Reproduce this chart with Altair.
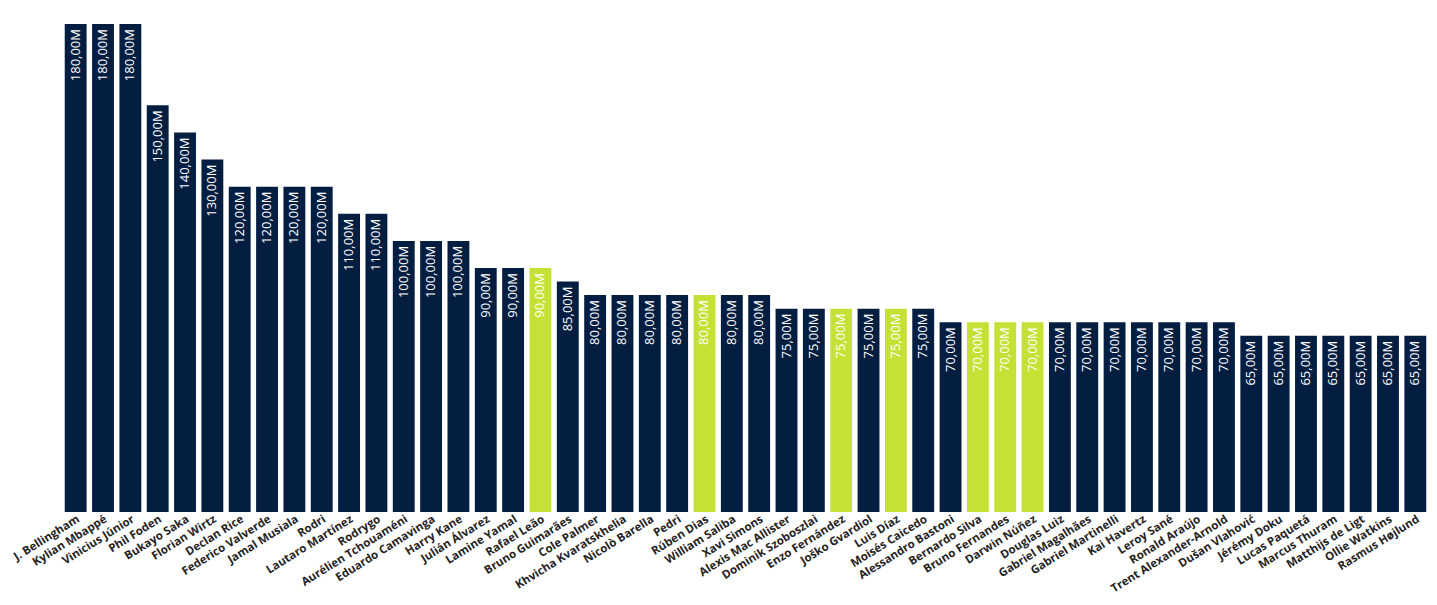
import altair as alt
import pandas as pd

players = [
    "J. Bellingham", "Kylian Mbappé", "Vinicius Júnior", "Phil Foden", "Bukayo Saka",
    "Florian Wirtz", "Declan Rice", "Federico Valverde", "Jamal Musiala", "Rodri",
    "Lautaro Martínez", "Rodrygo", "Aurélien Tchouaméni", "Eduardo Camavinga", "Harry Kane",
    "Julián Álvarez", "Lamine Yamal", "Rafael Leão", "Bruno Guimarães", "Cole Palmer",
    "Khvicha Kvaratskhelia", "Nicolò Barella", "Pedri", "Rúben Dias", "William Saliba",
    "Xavi Simons", "Alexis Mac Allister", "Dominik Szoboszlai", "Enzo Fernández", "Joško Gvardiol",
    "Luis Díaz", "Moisés Caicedo", "Alessandro Bastoni", "Bernardo Silva", "Bruno Fernandes",
    "Darwin Núñez", "Douglas Luiz", "Gabriel Magalhães", "Gabriel Martinelli", "Kai Havertz",
    "Leroy Sané", "Ronald Araújo", "Trent Alexander-Arnold", "Dušan Vlahović", "Jérémy Doku",
    "Lucas Paquetá", "Marcus Thuram", "Matthijs de Ligt", "Ollie Watkins", "Rasmus Højlund",
]

values = [
    180, 180, 180, 150, 140,
    130, 120, 120, 120, 120,
    110, 110, 100, 100, 100,
    90, 90, 90, 85, 80,
    80, 80, 80, 80, 80,
    80, 75, 75, 75, 75,
    75, 75, 70, 70, 70,
    70, 70, 70, 70, 70,
    70, 70, 70, 65, 65,
    65, 65, 65, 65, 65,
]

highlighted = [
    "Rafael Leão", "Rúben Dias", "Enzo Fernández", "Luis Díaz",
    "Bernardo Silva", "Bruno Fernandes", "Darwin Núñez",
]

df = pd.DataFrame({"player": players, "value": values})
df["group"] = ["hi" if p in highlighted else "base" for p in players]

base = alt.Chart(df).encode(
    x=alt.X(
        "player:N",
        sort=players,
        scale=alt.Scale(paddingInner=0.2, paddingOuter=0.1),
        axis=alt.Axis(
            title=None,
            labelAngle=-32,
            labelAlign="right",
            labelBaseline="top",
            labelFont="Open Sans",
            labelFontWeight="bold",
            labelFontSize=11.5,
            labelColor="#252423",
            labelPadding=1,
            ticks=False,
            domain=False,
            labelOverlap=False,
        ),
    ),
    y=alt.Y("value:Q", scale=alt.Scale(domain=[0, 180], nice=False), axis=None),
)

bars = base.mark_bar().encode(
    color=alt.Color(
        "group:N",
        scale=alt.Scale(domain=["base", "hi"], range=["#041E42", "#C5E135"]),
        legend=None,
    )
)

text = (
    base.transform_calculate(
        label="replace(format(datum.value, '.2f'), '.', ',') + 'M'"
    )
    .mark_text(
        angle=270,
        align="right",
        baseline="middle",
        dx=-5,
        color="white",
        font="Open Sans",
        fontSize=13,
    )
    .encode(text="label:N")
)

chart = (
    (bars + text)
    .properties(
        width=1367,
        height=488,
        autosize=alt.AutoSizeParams(type="none"),
        padding={"left": 54, "top": 16, "right": 0, "bottom": 85},
    )
    .configure_view(stroke=None)
)

chart.save("out.html", embed_options={"renderer": "svg", "actions": False})
